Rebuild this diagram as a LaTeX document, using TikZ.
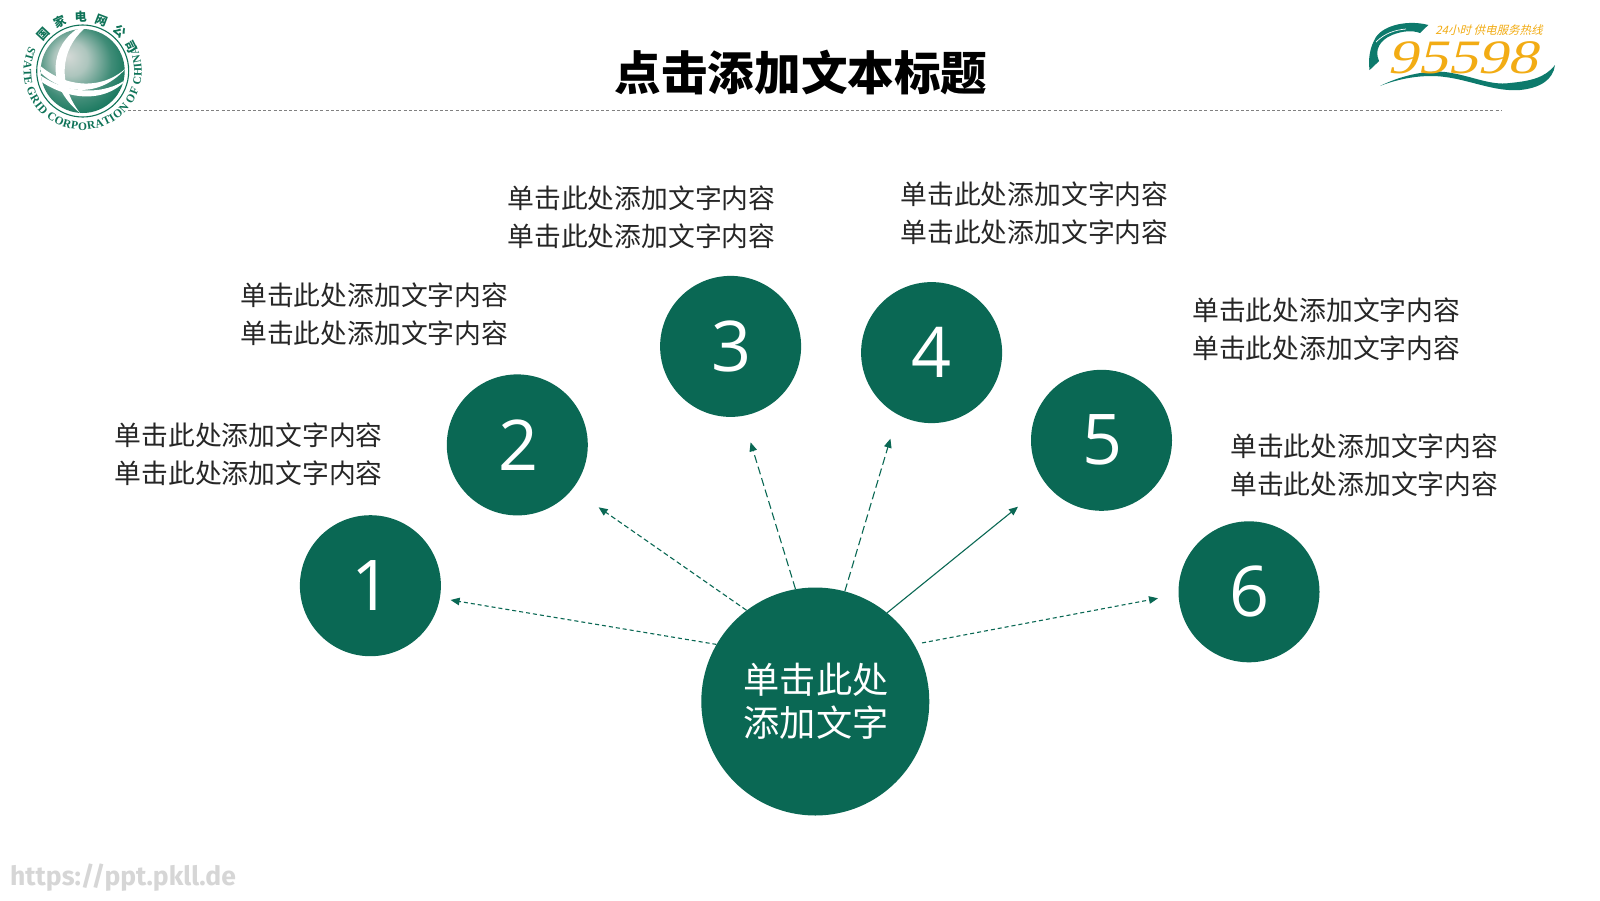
\documentclass[tikz,border=0pt]{standalone}
\usepackage{fontspec}
\setmainfont{Open Sans}
\newfontfamily\cjk{Noto Sans CJK SC}
\newfontfamily\serifb{Liberation Serif}
\newfontfamily\wm{Fira Sans}
\usetikzlibrary{arrows.meta,decorations.text}
\definecolor{sg}{HTML}{0A6854}
\definecolor{logog}{HTML}{0F7358}
\definecolor{orng}{HTML}{F2AC14}
\definecolor{teal95}{HTML}{0D7A6C}
\definecolor{gl}{HTML}{D5DAD7}
\pgfdeclareradialshading{globeshade}{\pgfpoint{-9bp}{9bp}}{
 color(0bp)=(gl);color(10bp)=(gl!80!logog);color(22bp)=(logog!75!gl);color(32bp)=(logog);color(50bp)=(logog)}
\tikzset{
 x=1pt,y=-1pt,
 numc/.style={circle,fill=sg,draw=none,minimum size=141pt,inner sep=0pt,text=white,font=\fontsize{70}{70}\selectfont},
 hubc/.style={circle,fill=sg,draw=none,minimum size=228pt,inner sep=0pt,text=white,align=center,font=\fontsize{36.2}{43}\selectfont\cjk},
 lbl/.style={align=left,inner sep=0pt,text=black!85,font=\fontsize{26.8}{38}\selectfont\cjk},
 conn/.style={sg,line width=1.1pt,-{Triangle[length=9pt,width=7.5pt]}},
}
\newcommand{\labeltxt}{单击此处添加文字内容\\单击此处添加文字内容}
\begin{document}
\begin{tikzpicture}
\useasboundingbox (0,0) rectangle (1600,900);
\fill[white] (0,0) rectangle (1600,900);
% title and rule
\node[inner sep=0pt,font=\fontsize{46.6}{50}\selectfont\cjk\bfseries] (title) at (801,73) {点击添加文本标题};
\coordinate (ruleL) at (128,110);
\coordinate (ruleR) at (1502,110);
\draw[black!50,line width=0.8pt,dash pattern=on 3pt off 2.2pt] (ruleL) -- (ruleR);
% left logo
\begin{scope}
 \shade[shading=globeshade] (82.7,71) circle[radius=42];
 \clip (82.7,71) circle[radius=42];
 \fill[white] (80,27) .. controls (50,45) and (45,85) .. (80,113) .. controls (58,85) and (60,50) .. (84,29) -- cycle;
 \fill[white] (36,68) .. controls (60,95) and (100,100) .. (128,66) .. controls (105,90) and (65,90) .. (36,62) -- cycle;
 \fill[white] (36,78) .. controls (65,100) and (105,105) .. (128,78) .. controls (105,96) and (65,95) .. (36,72) -- cycle;
\end{scope}
\draw[logog,line width=1.1pt] (82.7,71) circle[radius=46];
\foreach \c/\a in {国/137,家/115,电/92,网/69,公/47,司/27}{
 \node[inner sep=0pt,text=logog,rotate={\a-90},font=\fontsize{12}{12}\selectfont\cjk\bfseries] (zh\a) at ({82.7+54*cos(\a)},{71-54*sin(\a)}) {\c};
}
\path[decorate,decoration={text along path,text align={fit to path},
 text={|\fontsize{11.5}{12}\selectfont\serifb\bfseries\color{logog}|STATE GRID CORPORATION OF CHINA}}]
 (82.7,71) ++(-155:59) arc[start angle=-155,end angle=-385,radius=59];
% right logo
\fill[teal95] (1428.3,25) .. controls (1410,20) and (1385,24) .. (1376,37) .. controls (1370,47) and (1368,58) .. (1369.5,70)
 .. controls (1372,68) and (1376,64) .. (1379,61) .. controls (1374,50) and (1380,40) .. (1392,35) .. controls (1402,31) and (1412,30) .. (1420,33) -- cycle;
\draw[white,line width=0.7pt] (1376,42) .. controls (1385,33) and (1395,30) .. (1406,29);
\fill[teal95] (1380,86) .. controls (1400,76) and (1425,70) .. (1445,72) .. controls (1470,75) and (1490,86) .. (1510,83)
 .. controls (1530,81) and (1545,78) .. (1555,65) .. controls (1553,80) and (1540,88) .. (1520,90) .. controls (1495,92) and (1470,80) .. (1445,77) .. controls (1425,74) and (1400,78) .. (1380,86) -- cycle;
\node[inner sep=0pt,xscale=1.25,xslant=0.2,text=orng,font=\fontsize{48}{48}\selectfont\serifb] (num95) at (1466,58) {95598};
\node[inner sep=0pt,xslant=0.25,text=orng,font=\fontsize{11.5}{12}\selectfont\cjk] (hot) at (1490,30) {24小时 供电服务热线};
% watermark
\node[inner sep=0pt,anchor=west,text=black!16,font=\fontsize{26.5}{26}\selectfont\wm\bfseries] (mark) at (10,878) {https://ppt.pkll.de};
% numbered circles
\node[numc] (n1) at (370.4,585.7) {\hspace{3pt}1};
\node[numc] (n2) at (517.3,444.9) {\hspace{3pt}2};
\node[numc] (n3) at (730.6,346.4) {\hspace{1pt}3};
\node[numc] (n4) at (931.6,352.6) {4};
\node[numc] (n5) at (1101.5,440.3) {\hspace{2pt}5};
\node[numc] (n6) at (1249,591.8) {6};
\node[hubc] (hub) at (815.3,701.5) {\parbox{150pt}{\centering\hspace*{1.5pt}单击此处\\\hspace*{1.5pt}添加文字}};
% labels
\node[lbl] (l1) at (248.7,454.2) {\labeltxt};
\node[lbl] (l2) at (374.2,314.3) {\labeltxt};
\node[lbl] (l3) at (641.5,217.3) {\labeltxt};
\node[lbl] (l4) at (1034.4,213.3) {\labeltxt};
\node[lbl] (l5) at (1326.2,329.3) {\labeltxt};
\node[lbl] (l6) at (1364.2,465.2) {\labeltxt};
% free arrow ends
\coordinate (t1) at (450.6,600);
\coordinate (t2) at (598.6,507.3);
\coordinate (t3) at (750.6,442.3);
\coordinate (t4) at (890.4,438.7);
\coordinate (t5) at (1018,506.7);
\coordinate (t6) at (1158,598.3);
\draw[conn,dash pattern=on 4pt off 3pt] (hub.150.7) -- (t1);
\draw[conn,dash pattern=on 5pt off 3pt] (hub.127.1) -- (t2);
\draw[conn,dash pattern=on 8pt off 4pt] (hub.100.3) -- (t3);
\draw[conn,dash pattern=on 8pt off 4pt] (hub.75.1) -- (t4);
\draw[conn] (hub.51.3) -- (t5);
\draw[conn,dash pattern=on 4pt off 3pt,shorten <=8pt] (hub.30.4) -- (t6);
\end{tikzpicture}
\end{document}
